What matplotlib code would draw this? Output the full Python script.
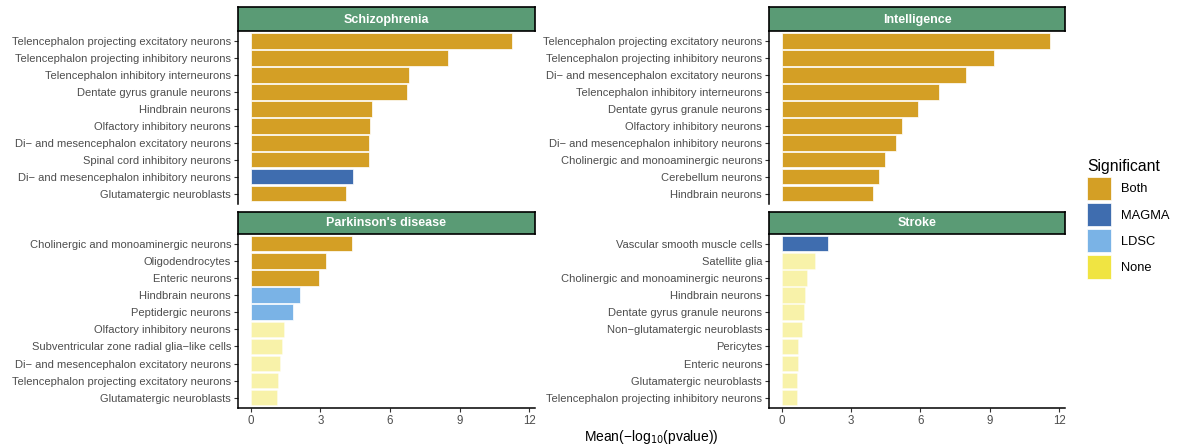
import numpy as np
import matplotlib
matplotlib.use('Agg')
import matplotlib.pyplot as plt
from matplotlib.patches import Patch

plt.rcParams['font.family'] = ['Liberation Sans', 'DejaVu Sans']

# --- Data (top to bottom within each panel) ---
scz_cells = ['Telencephalon projecting excitatory neurons', 'Telencephalon projecting inhibitory neurons',
             'Telencephalon inhibitory interneurons', 'Dentate gyrus granule neurons', 'Hindbrain neurons',
             'Olfactory inhibitory neurons', 'Di\u2212 and mesencephalon excitatory neurons',
             'Spinal cord inhibitory neurons', 'Di\u2212 and mesencephalon inhibitory neurons',
             'Glutamatergic neuroblasts']
scz_vals = [11.28, 8.49, 6.83, 6.74, 5.23, 5.15, 5.09, 5.08, 4.40, 4.11]
scz_sig = ['Both'] * 8 + ['MAGMA', 'Both']

iq_cells = ['Telencephalon projecting excitatory neurons', 'Telencephalon projecting inhibitory neurons',
            'Di\u2212 and mesencephalon excitatory neurons', 'Telencephalon inhibitory interneurons',
            'Dentate gyrus granule neurons', 'Olfactory inhibitory neurons',
            'Di\u2212 and mesencephalon inhibitory neurons', 'Cholinergic and monoaminergic neurons',
            'Cerebellum neurons', 'Hindbrain neurons']
iq_vals = [11.62, 9.2, 7.95, 6.8, 5.9, 5.18, 4.95, 4.48, 4.2, 3.95]
iq_sig = ['Both'] * 10

pd_cells = ['Cholinergic and monoaminergic neurons', 'Oligodendrocytes', 'Enteric neurons',
            'Hindbrain neurons', 'Peptidergic neurons', 'Olfactory inhibitory neurons',
            'Subventricular zone radial glia\u2212like cells', 'Di\u2212 and mesencephalon excitatory neurons',
            'Telencephalon projecting excitatory neurons', 'Glutamatergic neuroblasts']
pd_vals = [4.37, 3.23, 2.92, 2.11, 1.84, 1.42, 1.36, 1.24, 1.19, 1.15]
pd_sig = ['Both', 'Both', 'Both', 'LDSC', 'LDSC', 'None', 'None', 'None', 'None', 'None']

stroke_cells = ['Vascular smooth muscle cells', 'Satellite glia', 'Cholinergic and monoaminergic neurons',
                'Hindbrain neurons', 'Dentate gyrus granule neurons', 'Non\u2212glutamatergic neuroblasts',
                'Pericytes', 'Enteric neurons', 'Glutamatergic neuroblasts',
                'Telencephalon projecting inhibitory neurons']
stroke_vals = [1.98, 1.44, 1.10, 1.01, 0.96, 0.86, 0.72, 0.71, 0.65, 0.64]
stroke_sig = ['MAGMA'] + ['None'] * 9

sig_levels = ['Both', 'MAGMA', 'LDSC', 'None']
sig_colors = {'Both': '#D49F25', 'MAGMA': '#3F6DAF', 'LDSC': '#7AB3E6', 'None': '#F0E442'}

panels = [('Schizophrenia', scz_cells, scz_vals, scz_sig),
          ('Intelligence', iq_cells, iq_vals, iq_sig),
          ("Parkinson's disease", pd_cells, pd_vals, pd_sig),
          ('Stroke', stroke_cells, stroke_vals, stroke_sig)]

W, H = 1187, 447
fig = plt.figure(figsize=(W / 100, H / 100), dpi=100)

# panel boxes in pixels: (left, right, strip_top, strip_bottom, axes_bottom)
boxes = [(238, 535, 7.3, 30.8, 204),
         (769, 1065, 7.3, 30.8, 204),
         (238, 535, 211.7, 233.5, 408),
         (769, 1065, 211.7, 233.5, 408)]

for i, (title, cells, vals, sig) in enumerate(panels):
    l, r, st, sb, ab = boxes[i]
    ax = fig.add_axes([l / W, 1 - ab / H, (r - l) / W, (ab - sb) / H])
    y = np.arange(len(cells))[::-1] + 1
    cols = [sig_colors[s] for s in sig]
    alphas = [0.45 if s == 'None' else 1.0 for s in sig]
    for yy, v, c, a in zip(y, vals, cols, alphas):
        ax.barh(yy, v, height=0.9, color=c, alpha=a, edgecolor='white', linewidth=0.5)
    ax.set_xlim(-0.55, 12.25)
    ax.set_ylim(0.4, len(cells) + 0.6)
    ax.set_yticks(y)
    ax.set_yticklabels(cells, fontsize=8.05, color='#4D4D4D')
    ax.set_xticks([0, 3, 6, 9, 12])
    ax.tick_params(axis='both', length=3, width=0.8, color='#333333', pad=2)
    ax.tick_params(axis='x', labelsize=8.3, labelcolor='#4D4D4D')
    for s in ['top', 'right']:
        ax.spines[s].set_visible(False)
    ax.spines['left'].set_linewidth(1.1)
    ax.spines['bottom'].set_linewidth(1.1)
    if i < 2:
        ax.spines['bottom'].set_visible(False)
        ax.tick_params(axis='x', bottom=False, labelbottom=False)

    # facet strip
    sax = fig.add_axes([l / W, 1 - sb / H, (r - l) / W, (sb - st) / H])
    sax.set_facecolor('#5A9B75')
    sax.set_xticks([])
    sax.set_yticks([])
    for s in sax.spines.values():
        s.set_linewidth(1.2)
        s.set_color('black')
    sax.text(0.5, 0.48, title, ha='center', va='center', color='white',
             fontsize=9, fontweight='bold', transform=sax.transAxes)

fig.text(651 / W, 1 - 437 / H, 'Mean(\u2212log$_{10}$(pvalue))', ha='center', va='center', fontsize=10)

handles = [Patch(facecolor=sig_colors[s], edgecolor='white', linewidth=0.5) for s in sig_levels]
fig.legend(handles, sig_levels, loc='upper left', bbox_to_anchor=(1087 / W, 1 - 159 / H),
           frameon=False, title='Significant', title_fontsize=11.3, fontsize=9.3,
           handlelength=1.85, handleheight=2.4, labelspacing=0.22, handletextpad=0.75,
           borderpad=0, borderaxespad=0, alignment='left')

fig.savefig('out.png', dpi=100)
